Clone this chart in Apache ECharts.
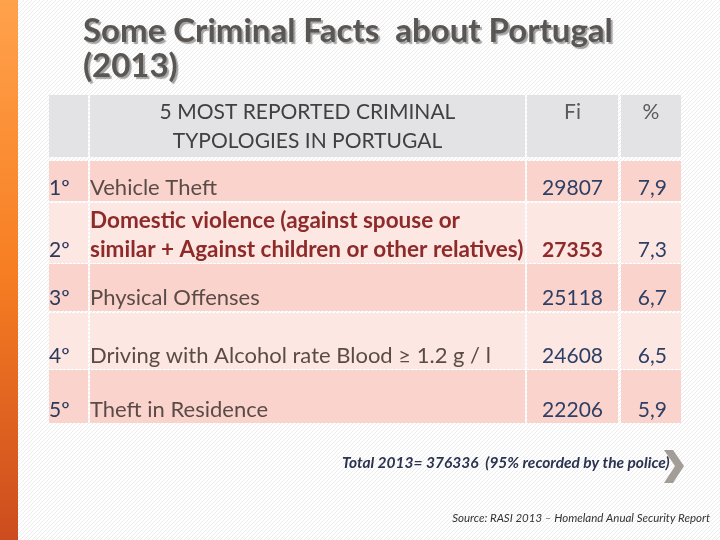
<!DOCTYPE html>
<html>
<head>
<meta charset="utf-8">
<script src="https://cdn.jsdelivr.net/npm/echarts@6/dist/echarts.min.js"></script>
<style>
  html, body { margin: 0; padding: 0; background: #fff; }
  #main { width: 720px; height: 540px; }
</style>
</head>
<body>
<div id="main"></div>
<script>
// table contents
const ranks = ['1º', '2º', '3º', '4º', '5º'];
const typologies = [
  'Vehicle Theft',
  'Domestic violence (against spouse or\nsimilar + Against children or other relatives)',
  'Physical Offenses',
  'Driving with Alcohol rate Blood ≥ 1.2 g / l',
  'Theft in Residence'
];
const fiValues = [29807, 27353, 25118, 24608, 22206];
const pctValues = [7.9, 7.3, 6.7, 6.5, 5.9];
const headers = ['5 MOST REPORTED CRIMINAL\nTYPOLOGIES IN PORTUGAL', 'Fi', '%'];
const highlightRow = 1; // domestic violence row is in bold red
const totalReported = 376336;
const policeShare = 95;

// layout of the table in axis units (1 unit = 1px)
const COLS = [[0, 39], [41, 476], [478, 569], [572, 632]];
const ROWS = [[0, 62], [66, 106], [108, 168], [169, 216], [218, 274], [275, 328]];
const FONT = 'Lato, "Open Sans", sans-serif';

let chart = echarts.init(document.getElementById('main'));

// diagonal hatch for the background
let tile = document.createElement('canvas');
tile.width = 4; tile.height = 4;
let tctx = tile.getContext('2d');
tctx.fillStyle = '#ffffff';
tctx.fillRect(0, 0, 4, 4);
tctx.fillStyle = '#ececec';
for (let k = 0; k < 4; k++) tctx.fillRect(3 - k, k, 1, 1);

function cellRect(api, c, r, fill) {
  let p0 = api.coord([COLS[c][0], ROWS[r][0]]);
  let p1 = api.coord([COLS[c][1], ROWS[r][1]]);
  return {
    type: 'rect',
    shape: { x: p0[0], y: p0[1], width: p1[0] - p0[0], height: p1[1] - p0[1] },
    style: { fill: fill }
  };
}

function renderHeader(params, api) {
  let children = [];
  for (let c = 0; c < 4; c++) children.push(cellRect(api, c, 0, '#e3e3e5'));
  for (let c = 1; c < 4; c++) {
    let p = api.coord([(COLS[c][0] + COLS[c][1]) / 2, ROWS[0][0] + 2.5]);
    children.push({
      type: 'text',
      style: {
        x: p[0], y: p[1], text: headers[c - 1],
        font: '21px ' + FONT, lineHeight: 29,
        fill: c === 1 ? '#404040' : '#5a5a5a',
        align: 'center', verticalAlign: 'top'
      }
    });
  }
  return { type: 'group', children: children };
}

function renderRow(params, api) {
  let i = params.dataIndex;
  let r = i + 1;
  let fill = i % 2 === 0 ? '#fad4cc' : '#fce7e2';
  let children = [];
  for (let c = 0; c < 4; c++) children.push(cellRect(api, c, r, fill));
  let yb = ROWS[r][1] + 1.5;
  let bold = i === highlightRow;
  let txt = function (xu, text, color, align, isBold, size) {
    let p = api.coord([xu, yb]);
    return {
      type: 'text',
      style: {
        x: p[0], y: p[1], text: text,
        font: (isBold ? 'bold ' : '') + size + 'px ' + FONT, lineHeight: 29,
        fill: color, align: align, verticalAlign: 'bottom'
      }
    };
  };
  children.push(txt(0, ranks[i], '#2b3a5c', 'left', false, 21));
  children.push(txt(41, typologies[i], bold ? '#8e2a2a' : '#5b4b48', 'left', bold, bold ? 22.5 : 22));
  children.push(txt(554, String(api.value(1)), bold ? '#8e2a2a' : '#2e3f66', 'right', bold, 21));
  children.push(txt(618, api.value(2).toFixed(1).replace('.', ','), '#2e3f66', 'right', false, 21));
  return { type: 'group', children: children };
}

let option = {
  backgroundColor: '#ffffff',
  animation: false,
  title: {
    text: 'Some Criminal Facts  about Portugal\n(2013)',
    left: 78,
    top: 9,
    textStyle: {
      fontFamily: FONT,
      fontWeight: 'bold',
      fontSize: 33,
      lineHeight: 35,
      color: '#5a5654',
      textShadowColor: 'rgba(0,0,0,0.35)',
      textShadowOffsetX: 2,
      textShadowOffsetY: 2,
      textShadowBlur: 1
    }
  },
  grid: { left: 49, top: 95, width: 632, height: 328 },
  xAxis: { type: 'value', min: 0, max: 632, show: false },
  yAxis: { type: 'value', min: 0, max: 328, inverse: true, show: false },
  graphic: [
    { type: 'rect', z: -10, shape: { x: 18, y: 0, width: 702, height: 540 },
      style: { fill: { image: tile, repeat: 'repeat' } } },
    { type: 'rect', z: -9, shape: { x: 0, y: 0, width: 18, height: 540 },
      style: { fill: new echarts.graphic.LinearGradient(0, 0, 0, 1, [
        { offset: 0, color: '#ffa24c' },
        { offset: 0.5, color: '#f77e22' },
        { offset: 1, color: '#cc4c1e' }
      ]) } },
    { type: 'text', left: 342, top: 455,
      style: { text: 'Total 2013= ' + totalReported + '  (' + policeShare + '% recorded by the police)',
        font: 'italic bold 15.5px ' + FONT, fill: '#2b3350' } },
    { type: 'polygon', shape: { points: [[664, 450], [673, 450], [684, 466], [673, 483], [664, 483], [675, 466]] },
      style: { fill: '#a39d98' } },
    { type: 'text', right: 10, top: 512,
      style: { text: 'Source: RASI 2013 – Homeland Anual Security Report',
        font: 'italic 11.5px ' + FONT, fill: '#333333' } }
  ],
  series: [
    {
      type: 'custom',
      renderItem: renderHeader,
      data: [[0]]
    },
    {
      type: 'custom',
      renderItem: renderRow,
      data: fiValues.map(function (v, i) { return [i, v, pctValues[i]]; })
    }
  ]
};

chart.setOption(option);
</script>
</body>
</html>
